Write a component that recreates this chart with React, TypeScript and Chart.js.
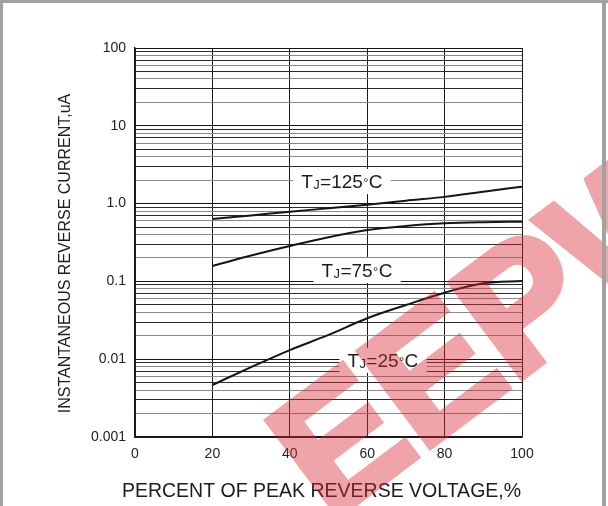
import React, { useEffect, useRef } from "react";
import { Chart, registerables } from "chart.js";

Chart.register(...registerables);

// ---- data ----
const xPercent = [20, 30, 40, 50, 60, 70, 80, 90, 100];
const tj125 = [0.634, 0.705, 0.787, 0.87, 0.968, 1.09, 1.22, 1.42, 1.65];
const tj75 = [0.158, 0.215, 0.285, 0.37, 0.458, 0.515, 0.558, 0.577, 0.585];
const tj25 = [0.00466, 0.0079, 0.0131, 0.0205, 0.0336, 0.0497, 0.0716, 0.0945, 0.101];

const yMajorValues = [0.001, 0.01, 0.1, 1, 10, 100];
const yTickLabels = ["0.001", "0.01", "0.1", "1.0", "10", "100"];
const yMinorMultipliers = [2, 3, 4, 5, 6, 7, 8, 9];
const xTickStep = 20;

const curveTemps = ["125", "75", "25"];
const labelX = [53.5, 57.4, 64.1];
const labelY = [1.95, 0.14, 0.0098];

const xTitle = "PERCENT OF PEAK REVERSE VOLTAGE,%";
const yTitle = "INSTANTANEOUS REVERSE CURRENT,uA";
const watermarkText = "EEPW";

const FONT = '"Liberation Sans", Arial, sans-serif';

function buildGridValues(): number[] {
  const out: number[] = [];
  for (let i = 0; i < yMajorValues.length; i++) {
    const m = yMajorValues[i];
    out.push(m);
    if (i < yMajorValues.length - 1) {
      for (const k of yMinorMultipliers) out.push(+(m * k).toPrecision(6));
    }
  }
  return out;
}
const yGridValues = buildGridValues();

function majorIndex(v: number): number {
  for (let i = 0; i < yMajorValues.length; i++) {
    if (Math.abs(v - yMajorValues[i]) / yMajorValues[i] < 1e-6) return i;
  }
  return -1;
}

function gridColorFor(v: number): string {
  if (majorIndex(v) >= 0) return "#151515";
  const mant = Math.round(v / Math.pow(10, Math.floor(Math.log10(v) + 1e-9)));
  return mant % 2 === 0 ? "#8a8a8a" : "#2a2a2a";
}

const labelsPlugin = {
  id: "curveLabels",
  afterDatasetsDraw(chart: any) {
    const ctx = chart.ctx as CanvasRenderingContext2D;
    const xs = chart.scales.x;
    const ys = chart.scales.y;
    ctx.save();
    for (let i = 0; i < curveTemps.length; i++) {
      const cx = xs.getPixelForValue(labelX[i]);
      const cy = ys.getPixelForValue(labelY[i]);
      const parts = [
        { t: "T", f: `19px ${FONT}`, dy: 0 },
        { t: "J", f: `13px ${FONT}`, dy: 1 },
        { t: "=" + curveTemps[i], f: `19px ${FONT}`, dy: 0 },
        { t: "\u00B0", f: `13px ${FONT}`, dy: -1 },
        { t: "C", f: `19px ${FONT}`, dy: 0 },
      ];
      let w = 0;
      const widths: number[] = [];
      for (const p of parts) {
        ctx.font = p.f;
        const mw = ctx.measureText(p.t).width + 0.4;
        widths.push(mw);
        w += mw;
      }
      ctx.fillStyle = "#ffffff";
      ctx.fillRect(cx - w / 2 - 8, cy - 12, w + 16, 25);
      ctx.fillStyle = "#1c1c1c";
      ctx.textBaseline = "alphabetic";
      ctx.textAlign = "left";
      let x = cx - w / 2;
      const base = cy + 7;
      parts.forEach((p, j) => {
        ctx.font = p.f;
        ctx.fillText(p.t, x, base + p.dy);
        x += widths[j];
      });
    }
    ctx.restore();
  },
};

const decorPlugin = {
  id: "decor",
  afterDraw(chart: any) {
    const ctx = chart.ctx as CanvasRenderingContext2D;
    const area = chart.chartArea;
    ctx.save();
    // axis titles
    ctx.fillStyle = "#1c1c1c";
    ctx.textAlign = "center";
    ctx.textBaseline = "middle";
    ctx.font = `19.5px ${FONT}`;
    ctx.fillText(xTitle, (area.left + area.right) / 2 - 7, 492);
    ctx.save();
    ctx.translate(66, (area.top + area.bottom) / 2 + 11);
    ctx.rotate(-Math.PI / 2);
    ctx.font = `16px ${FONT}`;
    ctx.fillText(yTitle, 0, 0);
    ctx.restore();

    // watermark (drawn opaque offscreen, composited translucent)
    const off = document.createElement("canvas");
    off.width = chart.width;
    off.height = chart.height;
    const o = off.getContext("2d");
    if (o) {
      o.translate(330, 522);
      o.rotate((-37 * Math.PI) / 180);
      o.font = `bold 172px ${FONT}`;
      o.fillStyle = "rgb(214, 38, 48)";
      o.strokeStyle = "rgb(214, 38, 48)";
      o.lineWidth = 7;
      o.lineJoin = "miter";
      o.textAlign = "left";
      o.textBaseline = "alphabetic";
      o.fillText(watermarkText, 0, 0);
      o.strokeText(watermarkText, 0, 0);
      ctx.globalAlpha = 0.42;
      ctx.drawImage(off, 0, 0);
      ctx.globalAlpha = 1;
    }

    // frame
    ctx.fillStyle = "#a2a2a2";
    ctx.fillRect(0, 0, 608, 3);
    ctx.fillRect(0, 0, 3, 506);
    ctx.fillRect(602, 0, 4, 506);
    ctx.restore();
  },
};

export default function App() {
  const ref = useRef<HTMLCanvasElement | null>(null);

  useEffect(() => {
    if (!ref.current) return;
    const mk = (vals: number[]) => xPercent.map((x, i) => ({ x, y: vals[i] }));
    const common = {
      borderColor: "#151515",
      borderWidth: 2,
      pointRadius: 0,
      fill: false,
      cubicInterpolationMode: "monotone" as const,
    };
    const chart = new Chart(ref.current, {
      type: "line",
      data: {
        datasets: [
          { label: "TJ=125°C", data: mk(tj125), ...common },
          { label: "TJ=75°C", data: mk(tj75), ...common },
          { label: "TJ=25°C", data: mk(tj25), ...common },
        ],
      },
      options: {
        responsive: false,
        animation: false,
        layout: { padding: { left: 0, top: 48, right: 86, bottom: 0 } },
        plugins: { legend: { display: false }, tooltip: { enabled: false } },
        scales: {
          x: {
            type: "linear",
            min: 0,
            max: 100,
            afterFit: (s: any) => {
              s.height = 69;
            },
            grid: { color: "#1a1a1a", lineWidth: 1, drawTicks: false },
            border: { color: "#1a1a1a", width: 1.5 },
            ticks: {
              stepSize: xTickStep,
              padding: 9,
              color: "#222",
              font: { family: FONT, size: 14 },
            },
          },
          y: {
            type: "logarithmic",
            min: 0.001,
            max: 100,
            afterBuildTicks: (s: any) => {
              s.ticks = yGridValues.map((v) => ({ value: v }));
            },
            afterFit: (s: any) => {
              s.width = 135;
            },
            grid: {
              drawTicks: false,
              lineWidth: 1,
              color: (c: any) => gridColorFor(c.tick ? c.tick.value : 1),
            },
            border: { color: "#1a1a1a", width: 1.5 },
            ticks: {
              autoSkip: false,
              padding: 9,
              color: "#222",
              font: { family: FONT, size: 14 },
              callback: (v: any) => {
                const i = majorIndex(Number(v));
                return i >= 0 ? yTickLabels[i] : "";
              },
            },
          },
        },
      },
      plugins: [labelsPlugin, decorPlugin],
    });
    return () => chart.destroy();
  }, []);

  return (
    <div style={{ position: "fixed", left: 0, top: 0, width: 608, height: 506, background: "#fff" }}>
      <canvas ref={ref} width={608} height={506} style={{ display: "block" }} />
    </div>
  );
}
